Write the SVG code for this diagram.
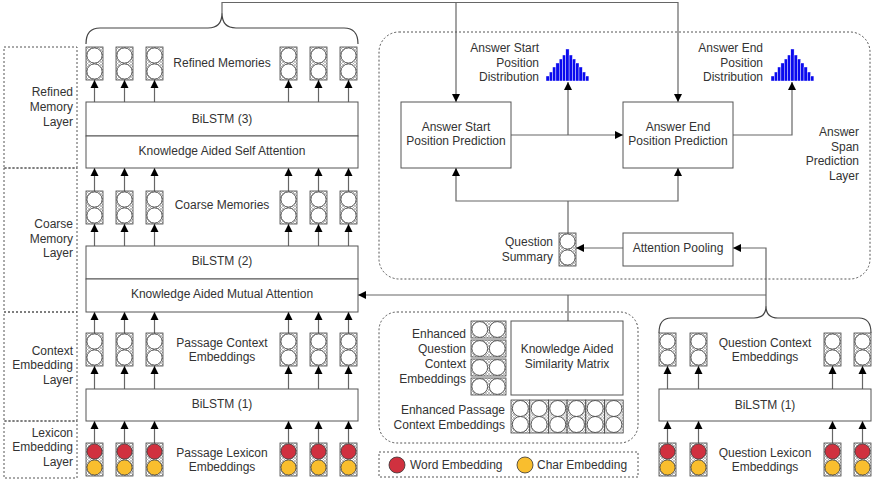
<svg xmlns="http://www.w3.org/2000/svg" xmlns:xlink="http://www.w3.org/1999/xlink" width="879" height="480" viewBox="0 0 879 480">
<style>
text{font-family:"Liberation Sans",Arial,sans-serif;font-size:12px;fill:#333}
.c{text-anchor:middle}
.r{text-anchor:end}
.box{fill:#fff;stroke:#555;stroke-width:1}
.dash{fill:none;stroke:#555;stroke-width:1;stroke-dasharray:2,2}
.ln{fill:none;stroke:#666;stroke-width:1.2}
.ar{fill:none;stroke:#666;stroke-width:1.2;marker-end:url(#ah)}
.br{fill:none;stroke:#444;stroke-width:1.2}
</style>
<defs>
<marker id="ah" viewBox="0 0 10 10" refX="10" refY="5" markerWidth="8" markerHeight="9" markerUnits="userSpaceOnUse" orient="auto">
<path d="M0,0 L10,5 L0,10 z" fill="#000"/>
</marker>
<pattern id="hatch" patternUnits="userSpaceOnUse" width="3" height="3">
<rect width="3" height="3" fill="#fff"/>
<path d="M0,0 L3,3 M3,0 L0,3" stroke="#999" stroke-width="0.6"/>
</pattern>
<g id="cellV">
<rect x="0" y="0" width="17" height="33" fill="url(#hatch)" stroke="#444" stroke-width="0.8"/>
<circle cx="8.5" cy="8.5" r="7.6" fill="#fff" stroke="#333" stroke-width="0.8"/>
<circle cx="8.5" cy="24.5" r="7.6" fill="#fff" stroke="#333" stroke-width="0.8"/>
</g>
<g id="cellL">
<rect x="0" y="0" width="17" height="33" fill="url(#hatch)" stroke="#444" stroke-width="0.8"/>
<circle cx="8.5" cy="8.5" r="7.6" fill="#D0313F" stroke="#333" stroke-width="0.8"/>
<circle cx="8.5" cy="24.5" r="7.6" fill="#F9BE2E" stroke="#333" stroke-width="0.8"/>
</g>
<g id="cellH">
<rect x="0" y="0" width="35" height="17" fill="url(#hatch)" stroke="#444" stroke-width="0.8"/>
<circle cx="8.75" cy="8.5" r="7.9" fill="#fff" stroke="#333" stroke-width="0.8"/>
<circle cx="26.25" cy="8.5" r="7.9" fill="#fff" stroke="#333" stroke-width="0.8"/>
</g>
<g id="cellP">
<rect x="0" y="0" width="18.7" height="33" fill="url(#hatch)" stroke="#444" stroke-width="0.8"/>
<circle cx="9.35" cy="8.5" r="8" fill="#fff" stroke="#333" stroke-width="0.8"/>
<circle cx="9.35" cy="24.5" r="8" fill="#fff" stroke="#333" stroke-width="0.8"/>
</g>
<g id="hist" fill="#0a0aee" stroke="#fff" stroke-width="0.4">
<rect x="0" y="27" width="3.3" height="5"/>
<rect x="3.3" y="23" width="3.3" height="9"/>
<rect x="6.6" y="18" width="3.3" height="14"/>
<rect x="9.9" y="14" width="3.3" height="18"/>
<rect x="13.2" y="10" width="3.3" height="22"/>
<rect x="16.5" y="6" width="3.3" height="26"/>
<rect x="19.8" y="0" width="3.3" height="32"/>
<rect x="23.1" y="6" width="3.3" height="26"/>
<rect x="26.4" y="10" width="3.3" height="22"/>
<rect x="29.7" y="14" width="3.3" height="18"/>
<rect x="33" y="18" width="3.3" height="14"/>
<rect x="36.3" y="23" width="3.3" height="9"/>
<rect x="39.6" y="27" width="3.3" height="5"/>
</g>
</defs>

<!-- layer labels -->
<g id="layer-refined">
<rect class="dash" x="4" y="47" width="73" height="121"/>
<text class="r" x="73" y="96">Refined</text>
<text class="r" x="73" y="111">Memory</text>
<text class="r" x="73" y="126">Layer</text>
</g>
<g id="layer-coarse">
<rect class="dash" x="4" y="168" width="73" height="144"/>
<text class="r" x="73" y="228">Coarse</text>
<text class="r" x="73" y="243">Memory</text>
<text class="r" x="73" y="257">Layer</text>
</g>
<g id="layer-context">
<rect class="dash" x="4" y="312" width="73" height="109"/>
<text class="r" x="73" y="355">Context</text>
<text class="r" x="73" y="369">Embedding</text>
<text class="r" x="73" y="384">Layer</text>
</g>
<g id="layer-lexicon">
<rect class="dash" x="4" y="421" width="73" height="57"/>
<text class="r" x="73" y="437">Lexicon</text>
<text class="r" x="73" y="451">Embedding</text>
<text class="r" x="73" y="466">Layer</text>
</g>

<!-- connectors -->
<g id="connectors">
<path class="br" d="M86,44 Q86,28 100,28 L208,28 Q222,28 222,13 Q222,28 236,28 L344,28 Q358,28 358,44"/>
<path class="br" d="M659,333 Q659,318 671,318 L754,318 Q766,318 766,306 Q766,318 778,318 L859,318 Q871,318 871,333"/>
<path class="ar" d="M222,13 V2.5 H678 V102"/>
<path class="ar" d="M456,2.5 V102"/>
<path class="ar" d="M511,135 H623"/>
<path class="ar" d="M568,135 V82"/>
<path class="ar" d="M733,135 H792 V82"/>
<path class="ln" d="M568,233 V201"/>
<path class="ar" d="M568,201 H456 V168"/>
<path class="ar" d="M568,201 H678 V168"/>
<path class="ar" d="M623,248 H576"/>
<path class="ar" d="M766,306 V248 H733"/>
<path class="ar" d="M766,295 H358"/>
<path class="ln" d="M568,321 V295"/>
<!-- refined arrows -->
<path class="ar" d="M94.5,102 V80"/><path class="ar" d="M124.5,102 V80"/><path class="ar" d="M154.5,102 V80"/>
<path class="ar" d="M288.5,102 V80"/><path class="ar" d="M318.5,102 V80"/><path class="ar" d="M348.5,102 V80"/>
<!-- coarse to bilstm3 -->
<path class="ar" d="M94.5,191 V168"/><path class="ar" d="M124.5,191 V168"/><path class="ar" d="M154.5,191 V168"/>
<path class="ar" d="M288.5,191 V168"/><path class="ar" d="M318.5,191 V168"/><path class="ar" d="M348.5,191 V168"/>
<!-- bilstm2 to coarse -->
<path class="ar" d="M94.5,246 V224"/><path class="ar" d="M124.5,246 V224"/><path class="ar" d="M154.5,246 V224"/>
<path class="ar" d="M288.5,246 V224"/><path class="ar" d="M318.5,246 V224"/><path class="ar" d="M348.5,246 V224"/>
<!-- context to KAMA -->
<path class="ar" d="M94.5,333 V312"/><path class="ar" d="M124.5,333 V312"/><path class="ar" d="M154.5,333 V312"/>
<path class="ar" d="M288.5,333 V312"/><path class="ar" d="M318.5,333 V312"/><path class="ar" d="M348.5,333 V312"/>
<!-- bilstm1 to context -->
<path class="ar" d="M94.5,389 V366"/><path class="ar" d="M124.5,389 V366"/><path class="ar" d="M154.5,389 V366"/>
<path class="ar" d="M288.5,389 V366"/><path class="ar" d="M318.5,389 V366"/><path class="ar" d="M348.5,389 V366"/>
<!-- lexicon to bilstm1 -->
<path class="ar" d="M94.5,443 V421"/><path class="ar" d="M124.5,443 V421"/><path class="ar" d="M154.5,443 V421"/>
<path class="ar" d="M288.5,443 V421"/><path class="ar" d="M318.5,443 V421"/><path class="ar" d="M348.5,443 V421"/>
<!-- question side -->
<path class="ar" d="M667.5,389 V366"/><path class="ar" d="M698.5,389 V366"/><path class="ar" d="M832.5,389 V366"/><path class="ar" d="M862.5,389 V366"/>
<path class="ar" d="M667.5,443 V421"/><path class="ar" d="M698.5,443 V421"/><path class="ar" d="M832.5,443 V421"/><path class="ar" d="M862.5,443 V421"/>
</g>

<!-- passage column -->
<g id="refined-memories">
<use xlink:href="#cellV" x="86" y="47"/><use xlink:href="#cellV" x="116" y="47"/><use xlink:href="#cellV" x="146" y="47"/>
<use xlink:href="#cellV" x="280" y="47"/><use xlink:href="#cellV" x="310" y="47"/><use xlink:href="#cellV" x="340" y="47"/>
<text class="c" x="222" y="67">Refined Memories</text>
</g>
<g id="bilstm3">
<rect class="box" x="86" y="102" width="272" height="34"/>
<text class="c" x="222" y="123">BiLSTM (3)</text>
</g>
<g id="self-attention">
<rect class="box" x="86" y="136" width="272" height="32"/>
<text class="c" x="222" y="155">Knowledge Aided Self Attention</text>
</g>
<g id="coarse-memories">
<use xlink:href="#cellV" x="86" y="191"/><use xlink:href="#cellV" x="116" y="191"/><use xlink:href="#cellV" x="146" y="191"/>
<use xlink:href="#cellV" x="280" y="191"/><use xlink:href="#cellV" x="310" y="191"/><use xlink:href="#cellV" x="340" y="191"/>
<text class="c" x="222" y="209">Coarse Memories</text>
</g>
<g id="bilstm2">
<rect class="box" x="86" y="246" width="272" height="33"/>
<text class="c" x="222" y="265">BiLSTM (2)</text>
</g>
<g id="mutual-attention">
<rect class="box" x="86" y="279" width="272" height="33"/>
<text class="c" x="222" y="298">Knowledge Aided Mutual Attention</text>
</g>
<g id="passage-context">
<use xlink:href="#cellV" x="86" y="333"/><use xlink:href="#cellV" x="116" y="333"/><use xlink:href="#cellV" x="146" y="333"/>
<use xlink:href="#cellV" x="280" y="333"/><use xlink:href="#cellV" x="310" y="333"/><use xlink:href="#cellV" x="340" y="333"/>
<text class="c" x="222" y="347">Passage Context</text>
<text class="c" x="222" y="361">Embeddings</text>
</g>
<g id="bilstm1-passage">
<rect class="box" x="86" y="389" width="272" height="32"/>
<text class="c" x="222" y="408">BiLSTM (1)</text>
</g>
<g id="passage-lexicon">
<use xlink:href="#cellL" x="86" y="443"/><use xlink:href="#cellL" x="116" y="443"/><use xlink:href="#cellL" x="146" y="443"/>
<use xlink:href="#cellL" x="280" y="443"/><use xlink:href="#cellL" x="310" y="443"/><use xlink:href="#cellL" x="340" y="443"/>
<text class="c" x="222" y="457">Passage Lexicon</text>
<text class="c" x="222" y="471">Embeddings</text>
</g>

<!-- answer span prediction layer -->
<g id="answer-span-layer">
<rect class="dash" x="379" y="32" width="491" height="247" rx="20" ry="20"/>
<text class="r" x="859" y="136">Answer</text>
<text class="r" x="859" y="151">Span</text>
<text class="r" x="859" y="165">Prediction</text>
<text class="r" x="859" y="180">Layer</text>
</g>
<g id="start-distribution">
<use xlink:href="#hist" x="546" y="49"/>
<text class="r" x="539" y="52">Answer Start</text>
<text class="r" x="539" y="67">Position</text>
<text class="r" x="539" y="81">Distribution</text>
</g>
<g id="end-distribution">
<use xlink:href="#hist" x="771" y="49"/>
<text class="r" x="763" y="52">Answer End</text>
<text class="r" x="763" y="67">Position</text>
<text class="r" x="763" y="81">Distribution</text>
</g>
<g id="answer-start">
<rect class="box" x="401" y="102" width="110" height="66"/>
<text class="c" x="456" y="131">Answer Start</text>
<text class="c" x="456" y="145">Position Prediction</text>
</g>
<g id="answer-end">
<rect class="box" x="623" y="102" width="110" height="66"/>
<text class="c" x="678" y="131">Answer End</text>
<text class="c" x="678" y="145">Position Prediction</text>
</g>
<g id="question-summary">
<use xlink:href="#cellV" x="559" y="233"/>
<text class="r" x="553" y="246">Question</text>
<text class="r" x="553" y="261">Summary</text>
</g>
<g id="attention-pooling">
<rect class="box" x="623" y="233" width="110" height="33"/>
<text class="c" x="678" y="252">Attention Pooling</text>
</g>

<!-- similarity block -->
<g id="similarity-block">
<rect class="dash" x="379" y="312" width="259" height="131" rx="18" ry="18"/>
</g>
<g id="similarity-matrix">
<rect class="box" x="511" y="321" width="112" height="74"/>
<text class="c" x="567" y="353">Knowledge Aided</text>
<text class="c" x="567" y="368">Similarity Matrix</text>
</g>
<g id="enhanced-question">
<use xlink:href="#cellH" x="471" y="321"/><use xlink:href="#cellH" x="471" y="340"/>
<use xlink:href="#cellH" x="471" y="359"/><use xlink:href="#cellH" x="471" y="378"/>
<text class="r" x="466" y="338">Enhanced</text>
<text class="r" x="466" y="353">Question</text>
<text class="r" x="466" y="368">Context</text>
<text class="r" x="466" y="383">Embeddings</text>
</g>
<g id="enhanced-passage">
<use xlink:href="#cellP" x="511" y="400"/><use xlink:href="#cellP" x="529.7" y="400"/><use xlink:href="#cellP" x="548.4" y="400"/>
<use xlink:href="#cellP" x="567.1" y="400"/><use xlink:href="#cellP" x="585.8" y="400"/><use xlink:href="#cellP" x="604.5" y="400"/>
<text class="r" x="505" y="414">Enhanced Passage</text>
<text class="r" x="505" y="429">Context Embeddings</text>
</g>
<g id="legend">
<rect class="dash" x="379" y="452" width="259" height="25"/>
<circle cx="397" cy="465" r="8" fill="#D0313F" stroke="#333" stroke-width="0.8"/>
<text x="410" y="469">Word Embedding</text>
<circle cx="525" cy="465" r="8" fill="#F9BE2E" stroke="#333" stroke-width="0.8"/>
<text x="537" y="469">Char Embedding</text>
</g>

<!-- question column -->
<g id="question-context">
<use xlink:href="#cellV" x="659" y="333"/><use xlink:href="#cellV" x="690" y="333"/>
<use xlink:href="#cellV" x="824" y="333"/><use xlink:href="#cellV" x="854" y="333"/>
<text class="c" x="765" y="347">Question Context</text>
<text class="c" x="765" y="361">Embeddings</text>
</g>
<g id="bilstm1-question">
<rect class="box" x="659" y="389" width="212" height="32"/>
<text class="c" x="765" y="409">BiLSTM (1)</text>
</g>
<g id="question-lexicon">
<use xlink:href="#cellL" x="659" y="443"/><use xlink:href="#cellL" x="690" y="443"/>
<use xlink:href="#cellL" x="824" y="443"/><use xlink:href="#cellL" x="854" y="443"/>
<text class="c" x="765" y="457">Question Lexicon</text>
<text class="c" x="765" y="471">Embeddings</text>
</g>
</svg>
